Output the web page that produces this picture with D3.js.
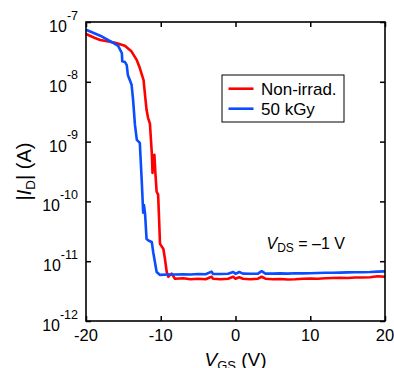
<!DOCTYPE html>
<html>
<head>
<meta charset="utf-8">
<script src="https://cdn.jsdelivr.net/npm/d3@7"></script>
<style>
  html, body { margin: 0; padding: 0; background: #fff; }
  svg { display: block; font-family: Arial, 'Liberation Sans', Helvetica, sans-serif; }
</style>
</head>
<body>
<svg id="chart" width="394" height="368"></svg>
<script>
// transfer curves, |I_D| in A vs V_GS in V
const vgsNon = [-20, -18.8, -18.1, -16.1, -14.8, -13.9, -13.2, -12.8, -12.3, -12.1, -11.9, -11.7, -11.45, -11.2, -11.1, -10.97, -10.85, -10.7, -10.55, -10.35, -10.25, -10.1, -9.65, -9.45, -9.2, -9.0, -8.75, -8.55, -8.1,
  -7, -6, -5, -4, -3.2, -3, -2, -1, -0.3, 0, 0.5, 1, 2, 3, 3.5, 4, 5, 6, 7, 8, 9, 10, 11, 12, 13, 14, 15, 16, 17, 18, 19, 20];
const idNon = [6.3e-8, 5.4e-8, 5.0e-8, 4.5e-8, 4.0e-8, 3.2e-8, 2.3e-8, 1.7e-8, 1.07e-8, 6.0e-9, 3.4e-9, 2.5e-9, 2.0e-9, 6.5e-10, 3.0e-10, 4.9e-10, 6.0e-10, 2.75e-10, 1.45e-10, 1.3e-10, 6.2e-11, 1.95e-11, 1.6e-11, 1.12e-11, 6.6e-12, 5.5e-12, 5.9e-12, 6.2e-12, 5.1e-12,
  5.2e-12, 5.0e-12, 5.1e-12, 5.0e-12, 5.5e-12, 5.1e-12, 5.0e-12, 5.1e-12, 5.5e-12, 5.1e-12, 5.4e-12, 5.1e-12, 5.0e-12, 5.1e-12, 5.5e-12, 5.1e-12, 5.0e-12, 5.05e-12, 4.95e-12, 5.0e-12, 5.1e-12, 5.15e-12, 5.1e-12, 5.2e-12, 5.25e-12, 5.3e-12, 5.25e-12, 5.35e-12, 5.35e-12, 5.4e-12, 5.6e-12, 5.5e-12];

const vgsRad = [-20, -18.1, -16.4, -15.7, -15.2, -15.15, -14.8, -14.55, -14.4, -13.9, -13.7, -13.45, -13.2, -12.8, -12.55, -12.35, -12.25, -12.1, -11.9, -11.6, -11.2, -11.0, -10.55, -10.1,
  -9, -8, -7, -6, -5, -4, -3.2, -3, -2, -1, -0.3, 0, 0.5, 1, 2, 3, 3.5, 4, 5, 6, 7, 8, 9, 10, 11, 12, 13, 14, 15, 16, 17, 18, 19, 20];
const idRad = [7.4e-8, 5.9e-8, 4.5e-8, 4.0e-8, 3.0e-8, 2.2e-8, 2.15e-8, 1.9e-8, 1.3e-8, 8.9e-9, 5.0e-9, 1.9e-9, 1.07e-9, 9.5e-10, 2.3e-10, 6.5e-11, 8.7e-11, 6.3e-11, 2.35e-11, 2.2e-11, 2.1e-11, 1.4e-11, 6.6e-12, 5.9e-12,
  6.0e-12, 6.0e-12, 6.05e-12, 6.0e-12, 6.1e-12, 6.05e-12, 6.7e-12, 6.1e-12, 6.1e-12, 6.15e-12, 6.6e-12, 6.15e-12, 6.6e-12, 6.2e-12, 6.15e-12, 6.2e-12, 6.8e-12, 6.2e-12, 6.2e-12, 6.25e-12, 6.2e-12, 6.3e-12, 6.25e-12, 6.3e-12, 6.35e-12, 6.4e-12, 6.4e-12, 6.45e-12, 6.5e-12, 6.55e-12, 6.55e-12, 6.6e-12, 6.7e-12, 6.75e-12];

const xTicks = [-20, -10, 0, 10, 20];
const yExps = [-12, -11, -10, -9, -8, -7];
const seriesNames = ['Non-irrad.', '50 kGy'];
const seriesColors = ['#ff0000', '#0a4dff'];

const svg = d3.select('#chart');
const mLeft = 86, mRight = 385, mTop = 22, mBottom = 321;

const x = d3.scaleLinear().domain([-20, 20]).range([mLeft, mRight]);
const y = d3.scaleLog().domain([1e-12, 1e-7]).range([mBottom, mTop]);

const yTickVals = yExps.map(e => Math.pow(10, e));

// ticks on all four sides, pointing inward
function tickAxis(axis, tx, ty) {
  const g = svg.append('g')
    .attr('transform', 'translate(' + tx + ',' + ty + ')')
    .call(axis);
  g.select('.domain').remove();
  g.selectAll('line').attr('stroke', '#000').attr('stroke-width', 1.5);
  g.selectAll('text').remove();
}
tickAxis(d3.axisBottom(x).tickValues(xTicks).tickSizeInner(-5).tickSizeOuter(0), 0, mBottom);
tickAxis(d3.axisTop(x).tickValues(xTicks).tickSizeInner(-5).tickSizeOuter(0), 0, mTop);
tickAxis(d3.axisLeft(y).tickValues(yTickVals).tickSizeInner(-5).tickSizeOuter(0), mLeft, 0);
tickAxis(d3.axisRight(y).tickValues(yTickVals).tickSizeInner(-5).tickSizeOuter(0), mRight, 0);

// curves
const line = d3.line()
  .x(d => x(d[0]))
  .y(d => y(d[1]));

const curves = [
  d3.zip(vgsNon, idNon),
  d3.zip(vgsRad, idRad)
];

curves.forEach((pts, i) => {
  svg.append('path')
    .datum(pts)
    .attr('fill', 'none')
    .attr('stroke', seriesColors[i])
    .attr('stroke-width', 2.6)
    .attr('stroke-linejoin', 'round')
    .attr('d', line);
});

// frame
svg.append('rect')
  .attr('x', mLeft).attr('y', mTop)
  .attr('width', mRight - mLeft).attr('height', mBottom - mTop)
  .attr('fill', 'none')
  .attr('stroke', '#000')
  .attr('stroke-width', 1.6);

// x tick labels
svg.append('g').selectAll('text')
  .data(xTicks)
  .enter().append('text')
  .attr('x', d => x(d))
  .attr('y', mBottom + 19.5)
  .attr('text-anchor', 'middle')
  .attr('font-size', 16.5)
  .text(d => d);

// y tick labels 10^n
const yl = svg.append('g').selectAll('text')
  .data(yExps)
  .enter().append('text')
  .attr('x', 78)
  .attr('y', d => y(Math.pow(10, d)) + 10)
  .attr('text-anchor', 'end');
yl.append('tspan').attr('font-size', 16).text('10');
yl.append('tspan').attr('font-size', 12.5).attr('dy', -12.5).text(d => '-' + Math.abs(d));

// axis titles
const xt = svg.append('text')
  .attr('x', (mLeft + mRight) / 2)
  .attr('y', 365.5)
  .attr('text-anchor', 'middle')
  .attr('font-size', 19);
xt.append('tspan').attr('font-style', 'italic').text('V');
xt.append('tspan').attr('font-size', 13).attr('dy', 4).text('GS');
xt.append('tspan').attr('dy', -4).text(' (V)');

const yt = svg.append('text')
  .attr('transform', 'translate(31,' + ((mTop + mBottom) / 2) + ') rotate(-90)')
  .attr('text-anchor', 'middle')
  .attr('font-size', 20);
yt.append('tspan').text('|');
yt.append('tspan').attr('font-style', 'italic').text('I');
yt.append('tspan').attr('font-size', 13.5).attr('dy', 4).text('D');
yt.append('tspan').attr('dy', -4).text('| (A)');

// V_DS annotation
const ann = svg.append('text')
  .attr('x', 266.5)
  .attr('y', 249)
  .attr('font-size', 16);
ann.append('tspan').attr('font-style', 'italic').text('V');
ann.append('tspan').attr('font-size', 12).attr('dy', 3).text('DS');
ann.append('tspan').attr('dy', -3).text(' = \u20131 V');

// legend
const lg = svg.append('g');
lg.append('rect')
  .attr('x', 222).attr('y', 75)
  .attr('width', 122).attr('height', 47)
  .attr('fill', '#fff')
  .attr('stroke', '#000')
  .attr('stroke-width', 1);
seriesNames.forEach((name, i) => {
  const ly = 88.7 + i * 20;
  lg.append('line')
    .attr('x1', 228.5).attr('x2', 253.5)
    .attr('y1', ly).attr('y2', ly)
    .attr('stroke', seriesColors[i])
    .attr('stroke-width', 2.6);
  lg.append('text')
    .attr('x', 261)
    .attr('y', ly + 6)
    .attr('font-size', 17)
    .text(name);
});
</script>
</body>
</html>
